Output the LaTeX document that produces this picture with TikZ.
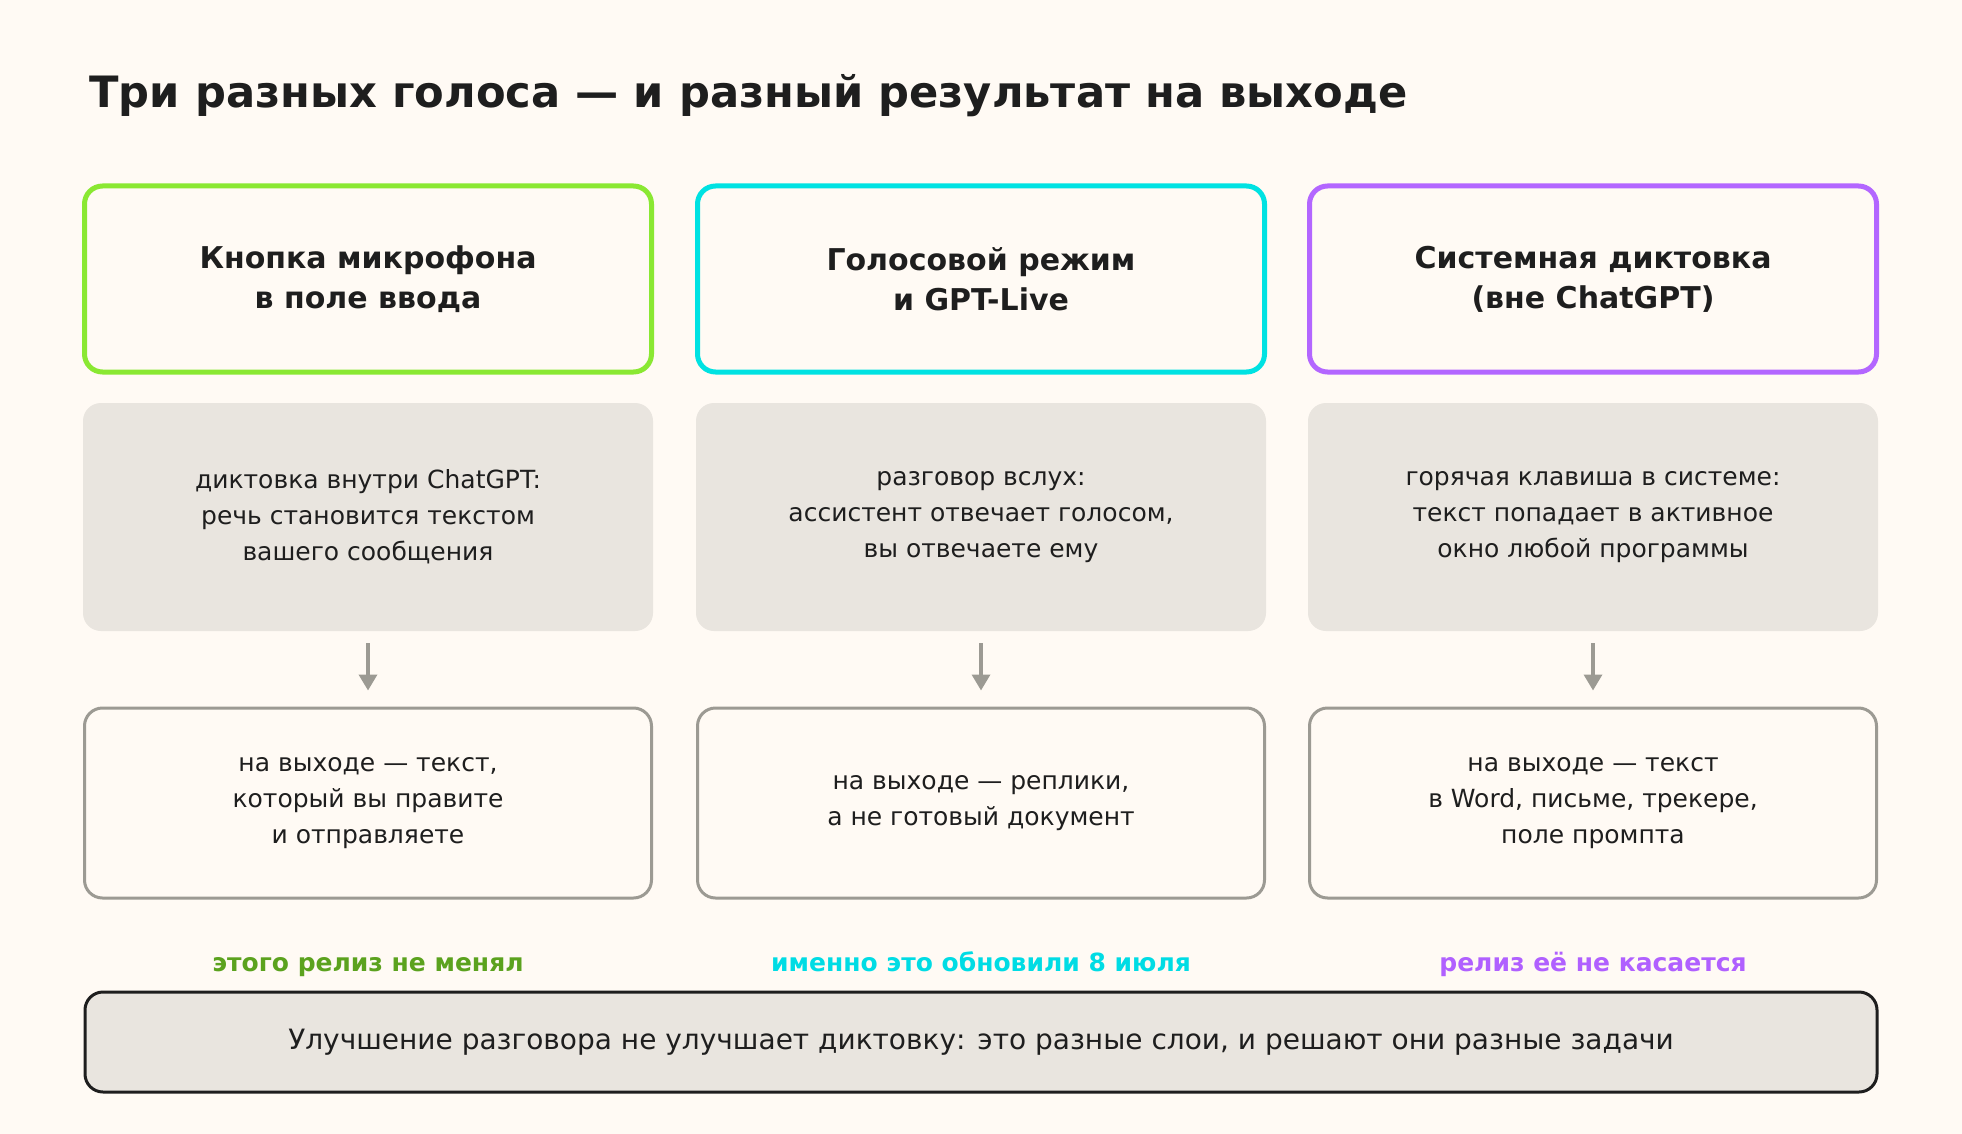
\documentclass[tikz,border=0pt]{standalone}
\usepackage{fontspec}
\setmainfont{DejaVu Sans}
\usetikzlibrary{arrows.meta}
\definecolor{bg}{HTML}{FFFAF4}
\definecolor{ink}{HTML}{1E1E1E}
\definecolor{panel}{HTML}{E9E5DF}
\definecolor{gline}{HTML}{9C9A93}
\definecolor{cgreen}{HTML}{8AE832}
\definecolor{ccyan}{HTML}{00E2E2}
\definecolor{cpurple}{HTML}{B366FF}
\definecolor{lgreen}{HTML}{5BA21E}
\definecolor{lcyan}{HTML}{00DCE4}
\definecolor{lpurple}{HTML}{B060FF}
\tikzset{
  headbox/.style={draw=#1, line width=5pt, rounded corners=18pt, fill=bg,
    minimum width=567pt, minimum height=186pt, align=center, text=ink,
    font=\fontsize{30}{40}\selectfont\bfseries},
  descbox/.style={fill=panel, rounded corners=18pt,
    minimum width=570pt, minimum height=228pt, align=center, text=ink,
    font=\fontsize{25}{36}\selectfont},
  outbox/.style={draw=gline, line width=3pt, rounded corners=18pt, fill=bg,
    minimum width=567pt, minimum height=190pt, align=center, text=ink,
    font=\fontsize{25}{36}\selectfont},
  flowarrow/.style={draw=gline, line width=3.5pt,
    -{Triangle[width=18pt,length=16pt]}, shorten <=12pt, shorten >=16pt},
  relabel/.style={anchor=base, font=\fontsize{25}{30}\selectfont\bfseries, text=#1},
  summary/.style={draw=ink, line width=3pt, rounded corners=18pt, fill=panel,
    minimum width=1792pt, minimum height=100pt, text=ink,
    font=\fontsize{28}{34}\selectfont}
}
\begin{document}
\begin{tikzpicture}[x=1pt,y=-1pt]
\useasboundingbox (0,0) rectangle (1962,1134);
\fill[bg] (0,0) rectangle (1962,1134);
\node[anchor=base west, text=ink, font=\fontsize{43.2}{50}\selectfont\bfseries] (title) at (86,108) {Три разных голоса — и разный результат на выходе};

\node[headbox=cgreen] (h1) at (368,279) {Кнопка микрофона\\в поле ввода};
\node[headbox=ccyan] (h2) at (981,279) {Голосовой режим\\и GPT-Live};
\node[headbox=cpurple] (h3) at (1593,279) {Системная диктовка\\(вне ChatGPT)};

\node[descbox] (d1) at (368,517) {диктовка внутри ChatGPT:\\речь становится текстом\\вашего сообщения};
\node[descbox] (d2) at (981,517) {разговор вслух:\\ассистент отвечает голосом,\\вы отвечаете ему};
\node[descbox] (d3) at (1593,517) {горячая клавиша в системе:\\текст попадает в активное\\окно любой программы};

\node[outbox] (o1) at (368,803) {на выходе — текст,\\который вы правите\\и отправляете};
\node[outbox] (o2) at (981,803) {на выходе — реплики,\\а не готовый документ};
\node[outbox] (o3) at (1593,803) {на выходе — текст\\в Word, письме, трекере,\\поле промпта};

\draw[flowarrow] (d1) -- (o1);
\draw[flowarrow] (d2) -- (o2);
\draw[flowarrow] (d3) -- (o3);

\node[relabel=lgreen] (l1) at (368,971) {этого релиз не менял};
\node[relabel=lcyan] (l2) at (981,971) {именно это обновили 8 июля};
\node[relabel=lpurple] (l3) at (1593,971) {релиз её не касается};

\node[summary] (s) at (981,1042) {Улучшение разговора не улучшает диктовку: это разные слои, и решают они разные задачи};
\end{tikzpicture}
\end{document}
